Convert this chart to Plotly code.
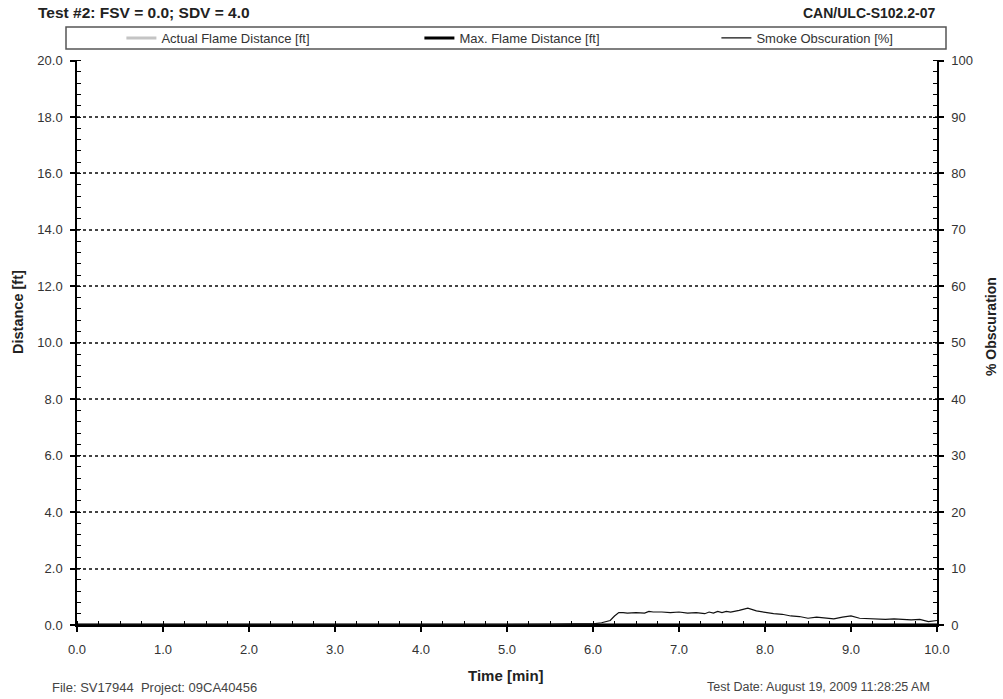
import plotly.graph_objects as go

# ---- data ----
flame_time = [0.0, 10.0]
actual_flame = [0.0, 0.0]
max_flame = [0.0, 0.0]

smoke_time = [0.0, 0.5, 1.0, 1.5, 2.0, 2.5, 3.0, 3.5, 4.0, 4.5, 5.0, 5.5, 5.8, 6.0, 6.1,
              6.2, 6.25, 6.3, 6.35, 6.4, 6.5, 6.6, 6.65, 6.7, 6.8, 6.9, 7.0, 7.1, 7.2,
              7.3, 7.35, 7.4, 7.45, 7.5, 7.55, 7.6, 7.7, 7.75, 7.8, 7.9, 8.0, 8.1, 8.2,
              8.3, 8.4, 8.5, 8.6, 8.7, 8.8, 8.9, 9.0, 9.1, 9.2, 9.3, 9.4, 9.5, 9.6, 9.7,
              9.8, 9.9, 10.0]
smoke_obsc = [0.0, 0.0, 0.0, 0.0, 0.0, 0.0, 0.0, 0.1, 0.0, 0.1, 0.0, 0.1, 0.2, 0.2, 0.4,
              0.8, 1.6, 2.2, 2.2, 2.1, 2.2, 2.1, 2.4, 2.3, 2.3, 2.2, 2.3, 2.1, 2.2,
              2.0, 2.3, 2.1, 2.4, 2.2, 2.4, 2.3, 2.6, 2.8, 3.0, 2.5, 2.2, 2.0, 1.9,
              1.6, 1.5, 1.2, 1.4, 1.2, 1.1, 1.4, 1.6, 1.2, 1.1, 1.1, 1.0, 1.1, 1.0, 0.9,
              1.0, 0.6, 0.8]

x_ticks = [0, 1, 2, 3, 4, 5, 6, 7, 8, 9, 10]
x_ticklabels = ["0.0", "1.0", "2.0", "3.0", "4.0", "5.0", "6.0", "7.0", "8.0", "9.0", "10.0"]

FONT = "Liberation Sans, Arial, sans-serif"
TXT = "#333333"


def px(sx):  # screen x -> paper x
    return (sx - 77) / 860


def py(sy):  # screen y -> paper y
    return (625 - sy) / 565


fig = go.Figure()
fig.add_trace(go.Scatter(x=flame_time, y=actual_flame, mode="lines",
                         name="Actual Flame Distance [ft]", legend="legend",
                         line=dict(color="#c4c4c4", width=3)))
fig.add_trace(go.Scatter(x=flame_time, y=max_flame, mode="lines",
                         name="Max. Flame Distance [ft]", legend="legend2",
                         line=dict(color="black", width=3)))
fig.add_trace(go.Scatter(x=smoke_time, y=smoke_obsc, mode="lines",
                         name="Smoke Obscuration [%]", yaxis="y2", legend="legend3",
                         line=dict(color="#111111", width=1.2)))

leg_common = dict(orientation="h", yanchor="middle", xanchor="left", y=py(38),
                  bgcolor="rgba(0,0,0,0)", font=dict(size=13, color=TXT),
                  itemclick=False, itemdoubleclick=False)

fig.update_layout(
    width=1003, height=699,
    margin=dict(l=77, r=66, t=60, b=74),
    paper_bgcolor="white", plot_bgcolor="white",
    font=dict(family=FONT, size=13, color=TXT),
    showlegend=True,
    legend=dict(x=px(121.4), **leg_common),
    legend2=dict(x=px(419.4), **leg_common),
    legend3=dict(x=px(716.4), **leg_common),
    xaxis=dict(range=[0, 10], tickvals=x_ticks, ticktext=x_ticklabels,
               showgrid=False, zeroline=False,
               showline=True, linecolor="black", linewidth=2,
               ticks="outside", ticklen=5, tickcolor="black", tickwidth=1.5,
               ticklabelstandoff=6,
               tickfont=dict(size=13, color=TXT),
               minor=dict(dtick=0.25, ticks="inside", ticklen=4, tickcolor="black",
                          tickwidth=1.2, showgrid=False)),
    yaxis=dict(range=[0, 20.02], tickvals=[0, 2, 4, 6, 8, 10, 12, 14, 16, 18, 20],
               tickformat=".1f",
               showgrid=True, gridcolor="#444444", gridwidth=1.5, griddash="dot",
               zeroline=False, showline=True, linecolor="black", linewidth=1.5,
               ticks="outside", ticklen=5, tickcolor="black", tickwidth=1.5,
               ticklabelstandoff=5,
               tickfont=dict(size=13, color=TXT),
               minor=dict(dtick=0.4, ticks="inside", ticklen=4, tickcolor="black",
                          tickwidth=1.2, showgrid=False)),
    yaxis2=dict(range=[0, 100.1], tickvals=[0, 10, 20, 30, 40, 50, 60, 70, 80, 90, 100],
                overlaying="y", side="right",
                showgrid=False, zeroline=False,
                showline=True, linecolor="black", linewidth=1.5,
                ticks="outside", ticklen=5, tickcolor="black", tickwidth=1.5,
                ticklabelstandoff=5,
                tickfont=dict(size=13, color=TXT),
                minor=dict(dtick=2, ticks="inside", ticklen=4, tickcolor="black",
                           tickwidth=1.2, showgrid=False)),
    shapes=[dict(type="rect", xref="paper", yref="paper",
                 x0=px(66), x1=px(946), y0=py(49), y1=py(27),
                 line=dict(color="#555555", width=1.5), fillcolor="rgba(0,0,0,0)",
                 layer="below")],
    annotations=[
        dict(text="<b>Test #2: FSV = 0.0; SDV = 4.0</b>", xref="paper", yref="paper",
             x=px(36), y=py(13), xanchor="left", yanchor="middle",
             showarrow=False, font=dict(size=15.5, color="#222")),
        dict(text="<b>CAN/ULC-S102.2-07</b>", xref="paper", yref="paper",
             x=px(937), y=py(13), xanchor="right", yanchor="middle",
             showarrow=False, font=dict(size=14, color="#222")),
        dict(text="File: SV17944  Project: 09CA40456", xref="paper", yref="paper",
             x=px(50), y=py(687), xanchor="left", yanchor="middle",
             showarrow=False, font=dict(size=13, color="#444")),
        dict(text="Test Date: August 19, 2009 11:28:25 AM", xref="paper", yref="paper",
             x=px(932), y=py(687), xanchor="right", yanchor="middle",
             showarrow=False, font=dict(size=12.5, color="#444")),
        dict(text="<b>Time [min]</b>", xref="paper", yref="paper",
             x=px(506), y=py(675), xanchor="center", yanchor="middle",
             showarrow=False, font=dict(size=15, color="#222")),
        dict(text="<b>Distance [ft]</b>", xref="paper", yref="paper",
             x=px(18), y=py(312), xanchor="center", yanchor="middle", textangle=-90,
             showarrow=False, font=dict(size=14.5, color="#222")),
        dict(text="<b>% Obscuration</b>", xref="paper", yref="paper",
             x=px(991), y=py(327), xanchor="center", yanchor="middle", textangle=-90,
             showarrow=False, font=dict(size=14, color="#222")),
    ],
)

fig.write_html("out.html", post_script="document.body.style.margin='0';",
               config={"displayModeBar": False})
